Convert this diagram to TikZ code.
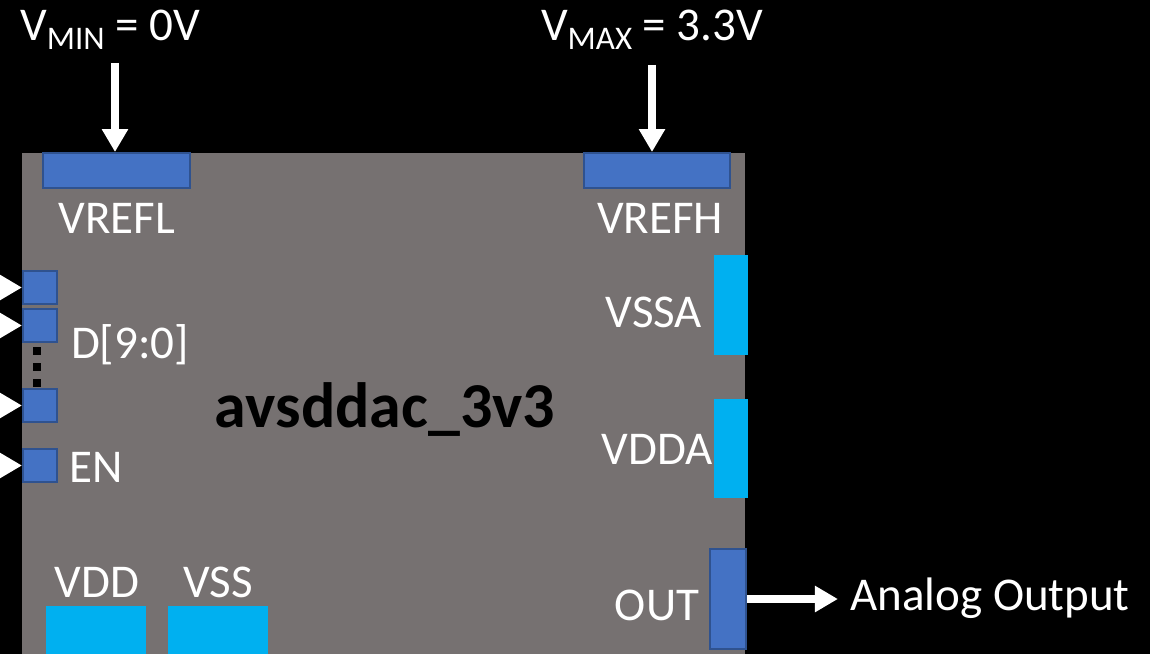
\documentclass[tikz,border=0pt]{standalone}
\usepackage{fontspec}
\setmainfont{Carlito}
\usetikzlibrary{arrows.meta,positioning}
\definecolor{chipgray}{RGB}{118,113,113}
\definecolor{padblue}{RGB}{68,114,196}
\definecolor{padedge}{RGB}{47,82,143}
\definecolor{padcyan}{RGB}{0,176,240}
\newcommand{\subtxt}[1]{\raisebox{-4.5pt}{\fontsize{16.5}{16.5}\selectfont #1}}

\begin{document}
\begin{tikzpicture}[x=0.5pt, y=-0.5pt,
    every node/.style={font=\fontsize{23.5}{27}\selectfont, text=white},
    pad/.style={fill=padblue, draw=padedge, line width=1pt, inner sep=0pt},
    supply/.style={fill=padcyan, inner sep=0pt},
    sig/.style={white, line width=4pt, -{Triangle[length=11.5pt,width=12.5pt]}}]
        \fill[black] (0,0) rectangle (1150,654);
        \useasboundingbox (0,0) rectangle (1150,654);
        \node[fill=chipgray, inner sep=0pt, anchor=north west, minimum width=361.5pt, minimum height=250.5pt] (chip) at (22,153) {};
        % reference pads
        \node[pad, minimum width=73.5pt, minimum height=17.5pt] (vrefl) at (116.5,170.5) {};
        \node[pad, minimum width=73pt, minimum height=17.5pt] (vrefh) at (657,170.5) {};
        \node (vmin) at (110,30) {V\subtxt{MIN} = 0V};
        \node (vmax) at (652,30) {V\subtxt{MAX} = 3.3V};
        \draw[sig, shorten <=3pt] (vmin.south -| 115,0) -- (vrefl.north -| 115,0);
        \draw[sig, shorten <=4pt] (vmax.south) -- (vmax.south |- vrefh.north);
        \node at (117,218) {VREFL};
        \node at (660,218) {VREFH};
        % digital inputs
        \foreach \n/\y in {d9/287.5, d8/325.5, d0/405.5, en/465.5} {
          \node[pad, minimum width=17pt, minimum height=16.5pt] (\n) at (40,\y) {};
          \coordinate (\n in) at (-12,\y);
          \draw[sig] (\n in) -- (\n.west);
        }
        \foreach \y in {351,367,383} {
          \fill[black] (33,\y-4) rectangle (41,\y+4);
        }
        \node at (130,345) {D[9:0]};
        \node at (96,467) {EN};
        \node[text=black, font=\fontsize{32}{36}\selectfont\bfseries] at (385,410) {avsddac\_3v3};
        % analog supply and output
        \node[supply, minimum width=17pt, minimum height=50pt] (vssa) at (731,305) {};
        \node[supply, minimum width=17pt, minimum height=49.5pt] (vdda) at (731,448.5) {};
        \node[pad, minimum width=18pt, minimum height=50pt] (out) at (728,599) {};
        \node at (654,312) {VSSA};
        \node at (657,449) {VDDA};
        \node at (657,605) {OUT};
        \node[inner sep=2pt] (aout) at (990,598) {Analog Output};
        \draw[sig, shorten >=4pt] (out.east) -- (out.east -| aout.west);
        % digital supply
        \node[supply, minimum width=50pt, minimum height=24pt] (vdd) at (96,630) {};
        \node[supply, minimum width=50pt, minimum height=24pt] (vss) at (218,630) {};
        \node at (97,582) {VDD};
        \node at (218,582) {VSS};
\end{tikzpicture}
\end{document}
